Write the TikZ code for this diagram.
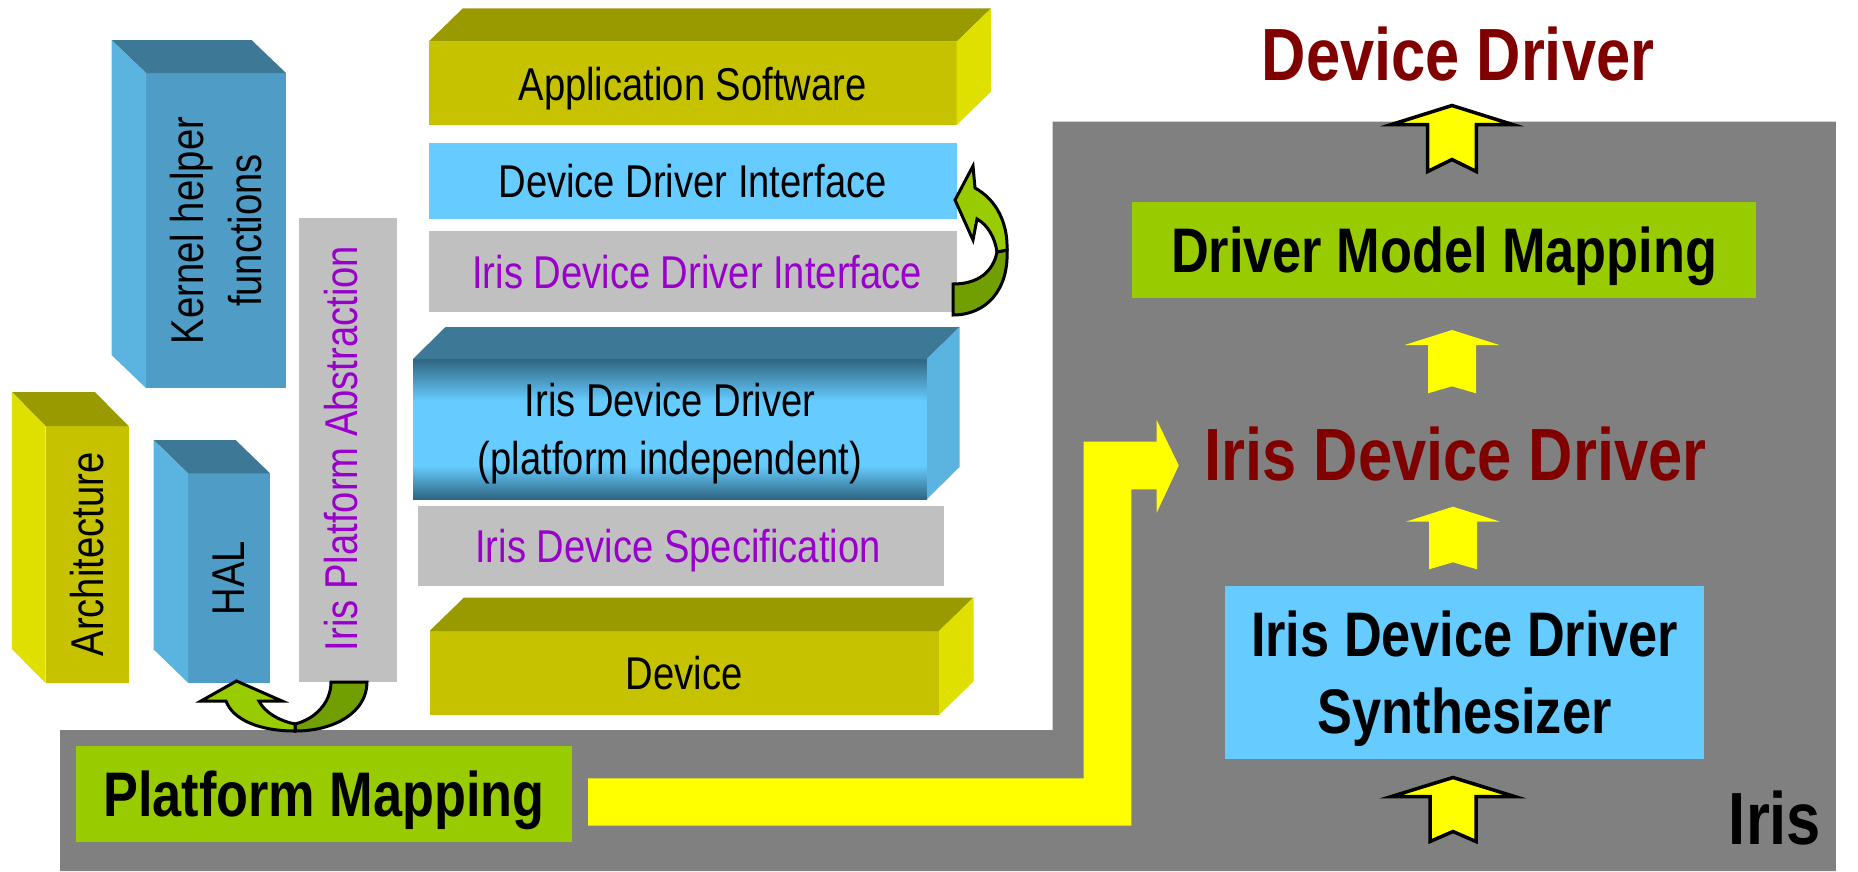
\documentclass[tikz,border=0pt]{standalone}
\usepackage{fontspec}
\setmainfont{Liberation Sans}[FakeStretch=0.83]
\usetikzlibrary{calc}

\definecolor{olvfront}{HTML}{C6C200}
\definecolor{olvtop}{HTML}{999900}
\definecolor{olvside}{HTML}{E0E000}
\definecolor{blufront}{HTML}{4F9CC6}
\definecolor{blutop}{HTML}{3D7896}
\definecolor{bluside}{HTML}{5BB3E0}
\definecolor{sky}{HTML}{66CCFF}
\definecolor{iddark}{HTML}{2F6580}
\definecolor{lgray}{HTML}{C0C0C0}
\definecolor{panelgray}{HTML}{808080}
\definecolor{leaf}{HTML}{99CC00}
\definecolor{leafdark}{HTML}{719E00}
\definecolor{irispurple}{HTML}{9900CC}
\definecolor{darkred}{HTML}{800000}
\definecolor{yel}{HTML}{FFFF00}

% dark - light - dark band for the driver slab
\pgfdeclareverticalshading{iddshade}{100bp}{color(0bp)=(iddark); color(25bp)=(iddark); color(37bp)=(sky); color(60bp)=(sky); color(75bp)=(iddark); color(100bp)=(iddark)}

\newcommand{\regtxt}{\fontsize{46}{58}\selectfont}
\newcommand{\boldtxt}{\fontsize{63}{77}\selectfont\bfseries}
\newcommand{\bigtxt}{\fontsize{74}{88}\selectfont\bfseries}

% 3D slab faces, depth towards the upper right
\newcommand{\slabR}[5]{%
  \fill[#4] (#1.north west) -- ++(#2,-#3) -- ($(#1.north east)+(#2,-#3)$) -- (#1.north east) -- cycle;
  \fill[#5] (#1.north east) -- ++(#2,-#3) -- ($(#1.south east)+(#2,-#3)$) -- (#1.south east) -- cycle;}
% 3D slab faces, depth towards the upper left
\newcommand{\slabL}[5]{%
  \fill[#4] (#1.north east) -- ++(-#2,-#3) -- ($(#1.north west)+(-#2,-#3)$) -- (#1.north west) -- cycle;
  \fill[#5] (#1.north west) -- ++(-#2,-#3) -- ($(#1.south west)+(-#2,-#3)$) -- (#1.south west) -- cycle;}
% notched block arrow pointing up: style, tip, barb half width, head height, shaft half width, length, notch
\newcommand{\upblock}[7]{%
  \path[#1] (#2) -- ++(#3,#4) -- ++(-#3+#5,0) -- ++(0,#6-#4) -- ++(-#5,-#7) -- ++(-#5,#7)
    -- ++(0,-#6+#4) -- ++(-#3+#5,0) -- cycle;}

\begin{document}
\begin{tikzpicture}[x=1pt,y=-1pt,
  plate/.style={inner sep=0pt, outer sep=0pt, align=center, text=black, text depth=0pt, font=\regtxt},
  txtlabel/.style={inner sep=0pt, outer sep=0pt, align=center, text depth=0pt, font=\regtxt},
  outlined/.style={fill=yel, draw=black, line width=3.5pt},
  plainyel/.style={fill=yel},
  curvearrow/.style={draw=black, line width=3pt}]
\useasboundingbox (0,0) rectangle (1858,871);

% Iris tool panel
\fill[panelgray] (60,730) -- (1052.6,730) -- (1052.6,121.7) -- (1835.8,121.7)
  -- (1835.8,871) -- (60,871) -- cycle;

% software stack
\node[plate, fill=olvfront, minimum width=528.2pt, minimum height=83.3pt] (app) at (692.6,83.35) {Application Software};
\slabR{app}{34.4}{33.4}{olvtop}{olvside}
\node[plate, fill=sky, minimum width=528.2pt, minimum height=76pt] (ddi) at (692.6,181) {Device Driver Interface};
\node[plate, fill=lgray, text=irispurple, minimum width=528.2pt, minimum height=81pt] (iddi) at (692.6,271.5) {\hspace*{9pt}Iris Device Driver Interface};
\node[plate, shade, shading=iddshade, minimum width=514pt, minimum height=140pt] (idd) at (670,429) {Iris Device Driver\\(platform independent)};
\slabR{idd}{32.5}{32}{blutop}{bluside}
\node[plate, fill=lgray, text=irispurple, minimum width=526pt, minimum height=80pt] (ids) at (681,546) {Iris Device Specification\hspace*{6pt}};
\node[plate, fill=olvfront, minimum width=509.5pt, minimum height=84pt] (dev) at (684.25,673) {Device};
\slabR{dev}{34.5}{33.5}{olvtop}{olvside}

% platform side columns
\node[plate, fill=blufront, minimum width=140pt, minimum height=315pt] (kern) at (216,230.5) {};
\slabL{kern}{34.5}{33}{blutop}{bluside}
\node[txtlabel, rotate=90] (kerntxt) at (kern.center) {Kernel helper\\functions};
\node[plate, fill=olvfront, minimum width=83pt, minimum height=257pt] (arch) at (87,554.5) {};
\slabL{arch}{33.6}{34}{olvtop}{olvside}
\node[txtlabel, rotate=90] (archtxt) at (arch.center) {Architecture};
\node[plate, fill=blufront, minimum width=82pt, minimum height=209.4pt] (hal) at (229,578) {};
\slabL{hal}{34.4}{33.3}{blutop}{bluside}
\node[txtlabel, rotate=90] (haltxt) at (hal.center) {HAL};
\node[plate, fill=lgray, minimum width=98.4pt, minimum height=463.4pt] (ipa) at (348.2,450) {};
\node[txtlabel, rotate=90, text=irispurple] (ipatxt) at (341,448.4) {Iris Platform Abstraction};

% Iris flow
\node[plate, font=\boldtxt, fill=leaf, minimum width=496pt, minimum height=95.7pt] (pm) at (324,793.85) {Platform Mapping};
\node[plate, font=\boldtxt, fill=leaf, minimum width=623.6pt, minimum height=96pt] (dmm) at (1444.2,249.7) {Driver Model Mapping};
\node[plate, font=\boldtxt, fill=sky, minimum width=479.4pt, minimum height=173pt] (syn) at (1464.7,672.5) {Iris Device Driver\\Synthesizer};
\node[txtlabel, font=\bigtxt, anchor=base, text=darkred] (ddtitle) at (1458,80) {Device Driver};
\node[txtlabel, font=\bigtxt, anchor=base, text=darkred] (iddtitle) at (1455.6,480) {Iris Device Driver};
\node[txtlabel, font=\bigtxt, anchor=base, text=black] (iris) at (1775,844) {Iris};

% yellow block arrows
\fill[yel] (588,778.3) -- (1083.5,778.3) -- (1083.5,441.7) -- (1156.7,441.7) -- (1156.7,420)
  -- (1178.8,465.5) -- (1156.7,512.7) -- (1156.7,489.3) -- (1131.4,489.3) -- (1131.4,825.7)
  -- (588,825.7) -- cycle;
\upblock{outlined}{1452,105.5}{60.5}{19}{24.3}{66}{12}
\upblock{plainyel}{1452,330}{47.4}{15}{24}{63.3}{7}
\upblock{plainyel}{1453,506.7}{47.2}{15}{24}{62.6}{7}
\upblock{outlined}{1453,777.5}{61.5}{19}{23}{64}{10}

% curved arrow: Iris Device Driver Interface -> Device Driver Interface
\path[curvearrow, fill=leafdark] (1007,250) .. controls (1009,290) and (986,315) .. (953,315)
  -- (953,284) .. controls (978,284) and (993,272) .. (997,252) -- cycle;
\path[curvearrow, fill=leaf] (975,188) -- (973,166) -- (955,200) -- (973,240) -- (977,219)
  .. controls (988,225) and (995,238) .. (997,252) -- (1007,250)
  .. controls (1008,224) and (997,200) .. (975,188) -- cycle;

% curved arrow: Iris Platform Abstraction -> HAL
\path[curvearrow, fill=leafdark] (331,682) -- (367,682) .. controls (367,712) and (335,731) .. (295,731)
  -- (295,724) .. controls (315,719) and (331,703) .. (331,682) -- cycle;
\path[curvearrow, fill=leaf] (295,731) .. controls (260,731) and (233,720) .. (226,701) -- (201,701)
  -- (236.5,681) -- (282,701) -- (259,701) .. controls (265,713) and (280,721) .. (295,724) -- cycle;
\end{tikzpicture}
\end{document}
